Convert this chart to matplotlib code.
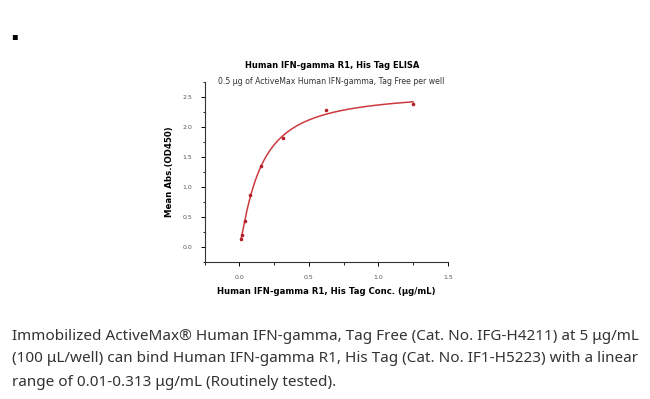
import numpy as np
import matplotlib
matplotlib.use("Agg")
import matplotlib.pyplot as plt
from matplotlib.ticker import MultipleLocator

# Concentrations (ug/mL) and mean OD450
conc = [0.0098, 0.0195, 0.039, 0.078, 0.156, 0.3125, 0.625, 1.25]
od450 = [0.13, 0.21, 0.44, 0.87, 1.35, 1.82, 2.28, 2.39]

TITLE = "Human IFN-gamma R1, His Tag ELISA"
SUBTITLE = "0.5 \u03bcg of ActiveMax Human IFN-gamma, Tag Free per well"
XLABEL = "Human IFN-gamma R1, His Tag Conc. (\u03bcg/mL)"
YLABEL = "Mean Abs.(OD450)"
CAPTION = [
    "Immobilized ActiveMax\u00ae Human IFN-gamma, Tag Free (Cat. No. IFG-H4211) at 5 \u03bcg/mL",
    "(100 \u03bcL/well) can bind Human IFN-gamma R1, His Tag (Cat. No. IF1-H5223) with a linear",
    "range of 0.01-0.313 \u03bcg/mL (Routinely tested).",
]

_CURVE = "#cc3a40"
_MARK = "#b3202b"
_TICK = "#555555"


def fit_4pl(x, y):
    """Grid search on slope/EC50, bottom and top solved by least squares."""
    x = np.asarray(x)
    y = np.asarray(y)
    best = None
    for b in np.linspace(0.5, 3.0, 101):
        for c in np.geomspace(0.02, 2.0, 201):
            g = 1.0 / (1.0 + (x / c) ** b)
            m = np.column_stack([g, 1 - g])
            coef, *_ = np.linalg.lstsq(m, y, rcond=None)
            err = np.sum((m @ coef - y) ** 2)
            if best is None or err < best[0]:
                best = (err, coef[0], coef[1], b, c)
    _, a, d, b, c = best
    return lambda t: d + (a - d) / (1.0 + (t / c) ** b)


curve = fit_4pl(conc, od450)
xs = np.linspace(min(conc), max(conc), 400)

fig = plt.figure(figsize=(6.5, 3.99), dpi=100)
ax = fig.add_axes([0.315, 0.343, 0.374, 0.451])

ax.plot(xs, curve(xs), color=_CURVE, linewidth=1.1)
ax.plot(conc, od450, "o", color=_MARK, markersize=2.6, markeredgewidth=0)

ax.set_xlim(-0.25, 1.5)
ax.set_ylim(-0.25, 2.75)
ax.xaxis.set_minor_locator(MultipleLocator(0.25))
ax.yaxis.set_minor_locator(MultipleLocator(0.25))
ax.set_xticks([0.0, 0.5, 1.0, 1.5])
ax.set_yticks([0.0, 0.5, 1.0, 1.5, 2.0, 2.5])
ax.tick_params(which="major", direction="out", length=3, width=0.7,
               labelsize=4.5, labelcolor=_TICK, pad=6)
ax.tick_params(which="minor", direction="out", length=1.8, width=0.6)
ax.spines["top"].set_visible(False)
ax.spines["right"].set_visible(False)
for s in ("left", "bottom"):
    ax.spines[s].set_linewidth(0.8)
    ax.spines[s].set_color("#333333")

ax.set_xlabel(XLABEL, fontsize=6.1, fontweight="bold", labelpad=5)
ax.set_ylabel(YLABEL, fontsize=6.2, fontweight="bold", labelpad=6)

fig.text(0.511, 0.835, TITLE, ha="center", va="center", fontsize=6.0, fontweight="bold")
fig.text(0.509, 0.796, SUBTITLE, ha="center", va="center", fontsize=5.6, color="#333333")

fig.text(0.022, 0.91, "\u25aa", ha="center", va="center", fontsize=7, color="black")

for i, line in enumerate(CAPTION):
    fig.text(0.018, 1 - (336 + i * 23) / 399, line, ha="left", va="center",
             fontsize=11.0, color="#333333", family="Noto Sans")

fig.savefig("out.png", dpi=100)
